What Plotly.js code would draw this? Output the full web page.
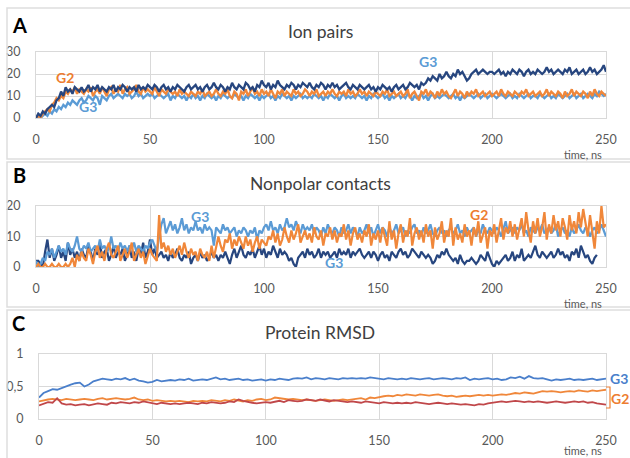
<!DOCTYPE html>
<html><head><meta charset="utf-8">
<script src="https://cdn.plot.ly/plotly-3.0.1.min.js"></script>
<style>html,body{margin:0;padding:0;background:#fff}#chart{width:630px;height:458px}</style>
</head><body><div id="chart"></div>
<script>
// ---------- DATA ----------
const stepAB = 1;   // ns
const stepC = 2;    // ns
const xTicks = [0, 50, 100, 150, 200, 250];

// Panel A: Ion pairs
const ionDark = [
0,2,1,3,2,4,5,6,5,8,
9,12,10,14,12,13,11,14,13,12,
14,12,13,15,12,14,13,15,12,14,
13,12,14,13,15,12,14,13,15,14,
12,14,13,14,12,15,13,14,13,15,
14,13,15,14,12,14,15,13,14,12,
14,13,15,14,13,12,14,15,13,14,
15,13,14,12,14,15,13,14,16,14,
13,15,14,12,14,13,16,14,13,15,
14,13,16,15,13,14,12,15,14,17,
15,14,16,13,15,14,17,15,14,13,
15,14,16,15,13,15,14,16,15,14,
16,14,13,15,14,16,15,13,15,14,
16,14,15,13,14,15,16,14,13,15,
14,13,15,14,13,14,15,13,14,12,
14,13,15,14,13,14,12,14,15,13,
14,15,13,14,16,15,14,15,13,16,
15,16,18,17,19,18,17,20,18,19,
21,19,18,20,19,22,20,21,19,17,
18,20,21,22,20,21,22,21,20,21,
21,20,21,22,20,21,19,21,20,22,
21,20,22,21,19,21,22,20,21,20,
22,21,20,21,23,21,22,20,21,22,
21,20,22,21,23,20,21,22,20,21,
22,20,21,23,21,22,20,21,22,24,
21];
const ionOrange = [
0,1,0,2,3,4,3,6,7,9,
8,10,9,12,11,13,12,14,11,13,
12,11,13,12,14,10,12,13,11,14,
12,10,13,14,11,13,12,15,11,13,
14,11,12,13,15,12,11,14,12,13,
12,11,14,12,10,13,12,11,13,12,
11,12,10,13,11,12,11,10,12,11,
10,12,11,13,10,11,12,10,11,13,
11,10,12,11,13,10,9,12,11,8,
12,11,13,10,12,14,11,12,10,13,
11,12,10,13,11,9,12,11,13,10,
12,11,10,13,11,12,10,11,13,12,
10,12,11,13,10,11,12,10,12,11,
13,11,10,12,11,12,10,13,11,12,
10,11,13,11,12,10,12,11,10,12,
11,10,12,11,13,10,11,12,10,11,
12,10,11,13,9,11,12,10,8,12,
11,13,10,12,11,9,12,10,13,11,
12,10,9,11,13,10,12,11,9,12,
10,12,11,13,10,11,12,10,11,12,
10,11,12,10,13,11,10,12,11,10,
12,11,10,12,11,13,10,11,12,10,
11,12,10,11,13,10,12,11,10,12,
11,9,12,10,11,13,10,12,11,10,
12,11,9,12,10,13,11,10,12,11,
10];
const ionLight = [
0,1,0,1,2,1,3,2,4,3,
5,4,6,5,7,6,8,7,6,8,
9,7,8,10,9,8,10,9,6,10,
9,8,10,11,9,10,11,10,9,11,
10,11,9,10,12,10,11,9,10,11,
10,11,9,10,11,10,9,10,11,8,
10,9,11,10,9,10,8,10,9,11,
9,10,8,10,9,11,10,9,10,8,
10,9,11,10,9,10,9,11,10,9,
10,8,10,9,11,10,9,10,8,10,
9,10,11,9,10,8,10,9,11,10,
9,10,8,10,9,10,11,9,10,9,
10,9,11,10,9,10,8,10,9,11,
10,9,10,8,10,11,9,10,9,10,
9,11,10,9,10,8,10,9,11,10,
9,10,11,9,10,8,10,9,10,11,
9,10,9,11,10,8,10,9,10,11,
9,10,8,10,11,9,10,9,10,11,
10,9,10,11,9,10,8,10,9,10,
11,10,9,10,11,9,10,11,9,10,
11,10,9,10,11,10,9,10,11,9,
10,9,11,10,9,10,11,9,10,10,
9,11,10,9,10,11,9,10,9,11,
10,9,10,11,9,10,11,9,10,11,
9,10,11,10,9,11,10,12,11,10,
11];

// Panel B: Nonpolar contacts
const npDark = [
2,2,1,0,5,9,3,6,2,4,
7,3,5,2,8,4,6,3,5,2,
6,4,3,7,5,2,6,4,8,3,
5,6,2,4,7,3,5,4,6,2,
4,7,3,5,2,6,4,8,3,5,
9,4,6,3,4,5,3,4,2,5,
3,4,6,3,2,4,3,5,1,3,
4,2,5,3,4,2,3,5,3,4,
2,4,3,5,3,1,4,6,3,5,
7,4,3,5,4,6,3,5,7,4,
6,3,5,4,7,5,3,6,4,5,
4,2,3,1,0,3,4,5,3,6,
4,5,3,4,6,3,5,4,5,3,
4,5,3,6,4,5,4,6,3,5,
4,5,6,4,3,4,5,3,5,4,
2,4,5,3,4,2,5,4,3,5,
6,4,5,3,4,6,5,4,3,5,
4,3,4,3,1,2,4,3,5,4,
6,4,3,2,3,1,4,2,1,2,
2,3,2,1,2,4,3,2,5,3,
1,0,2,1,2,3,4,2,3,5,
2,4,3,6,2,3,4,3,5,7,
4,3,5,4,3,4,5,3,4,6,
4,5,3,4,2,5,4,6,3,7,
5,3,4,2,1,3,4,null,null,null,
null];
const npLight = [
2,0,1,3,2,5,4,6,3,5,
7,5,6,4,8,6,5,7,10,6,
5,7,6,8,5,6,7,5,9,6,
7,5,6,10,6,7,5,8,6,7,
5,7,6,8,5,7,6,5,7,6,
8,9,7,5,10,14,16,11,13,15,
12,14,11,13,16,12,14,11,13,12,
15,12,13,11,14,12,13,12,7,13,
12,11,14,12,13,11,12,13,10,12,
11,13,12,10,12,11,13,9,12,11,
13,14,12,15,12,13,11,14,12,13,
16,13,14,12,15,13,11,14,12,13,
12,14,11,13,12,10,13,11,14,12,
11,13,12,10,13,11,12,14,11,13,
12,10,13,11,12,14,11,13,10,12,
14,11,13,12,10,13,11,12,14,11,
12,13,10,12,11,13,14,11,12,10,
13,11,12,14,11,10,12,13,11,12,
10,12,13,11,12,14,11,12,10,13,
11,12,13,10,12,11,14,12,11,13,
12,11,13,12,10,13,15,11,12,13,
11,13,12,14,11,12,10,13,12,11,
13,12,14,11,12,13,11,12,14,10,
12,13,11,12,10,13,11,12,14,12,
11,13,12,10,12,13,11,12,14,12,
10];
const npOrange = [
0,1,0,0,1,0,0,1,0,0,
1,0,0,1,0,1,3,0,4,2,
5,3,2,6,4,1,5,7,3,5,
2,6,8,4,3,5,7,2,4,6,
3,5,8,2,4,6,3,5,1,4,
6,4,3,2,17,6,8,5,7,4,
6,3,5,7,4,8,5,3,6,4,
5,2,6,4,3,5,2,7,3,6,
10,7,5,9,8,11,6,9,7,10,
8,6,10,7,9,5,8,10,6,9,
8,7,10,9,12,8,11,7,9,13,
10,8,12,9,11,14,8,10,12,9,
11,8,13,10,9,12,7,11,10,13,
9,12,8,11,10,14,9,12,7,11,
13,9,11,8,12,10,14,7,11,9,
12,8,13,10,7,15,9,12,6,11,
14,8,12,10,16,7,11,13,9,12,
8,14,10,12,6,13,9,11,15,8,
12,10,16,7,13,9,11,8,14,10,
12,7,13,10,15,8,11,13,6,12,
10,14,8,12,16,9,13,11,15,10,
14,9,12,16,10,18,12,8,15,11,
16,10,13,18,9,14,11,17,12,15,
10,16,13,9,17,12,15,11,18,13,
19,14,10,17,12,6,15,11,20,13,
14];

// Panel C: Protein RMSD (every 2 ns)
const rmsdBlue = [
0.33,0.40,0.43,0.46,0.45,0.48,0.50,0.53,0.55,0.56,
0.50,0.53,0.58,0.60,0.62,0.61,0.60,0.62,0.61,0.63,
0.60,0.62,0.59,0.58,0.56,0.57,0.60,0.58,0.59,0.60,
0.59,0.61,0.60,0.62,0.59,0.60,0.61,0.60,0.62,0.64,
0.61,0.62,0.60,0.61,0.62,0.60,0.61,0.59,0.60,0.61,
0.59,0.61,0.60,0.62,0.61,0.60,0.62,0.63,0.62,0.64,
0.61,0.63,0.62,0.61,0.63,0.62,0.61,0.63,0.62,0.63,
0.62,0.63,0.62,0.64,0.63,0.62,0.61,0.63,0.62,0.61,
0.62,0.61,0.63,0.62,0.61,0.62,0.63,0.61,0.62,0.63,
0.62,0.61,0.63,0.62,0.64,0.60,0.62,0.61,0.62,0.63,
0.61,0.62,0.60,0.61,0.64,0.63,0.65,0.62,0.66,0.63,
0.62,0.63,0.61,0.59,0.61,0.60,0.61,0.62,0.60,0.61,
0.60,0.61,0.62,0.60,0.61,0.62];
const rmsdOrange = [
0.27,0.29,0.30,0.31,0.30,0.29,0.31,0.30,0.29,0.30,
0.31,0.30,0.29,0.31,0.32,0.30,0.31,0.32,0.31,0.30,
0.31,0.33,0.30,0.29,0.30,0.28,0.29,0.28,0.27,0.28,
0.27,0.28,0.27,0.26,0.28,0.27,0.28,0.27,0.29,0.28,
0.27,0.29,0.28,0.30,0.28,0.27,0.29,0.28,0.30,0.31,
0.29,0.30,0.33,0.32,0.31,0.30,0.31,0.30,0.29,0.30,
0.29,0.28,0.29,0.30,0.29,0.28,0.29,0.30,0.29,0.30,
0.31,0.32,0.30,0.33,0.32,0.34,0.35,0.36,0.35,0.37,
0.36,0.38,0.37,0.36,0.38,0.37,0.36,0.37,0.38,0.36,
0.35,0.36,0.34,0.35,0.36,0.35,0.36,0.37,0.36,0.37,
0.36,0.37,0.38,0.37,0.39,0.40,0.39,0.41,0.40,0.39,
0.41,0.43,0.42,0.43,0.42,0.41,0.42,0.43,0.42,0.44,
0.43,0.42,0.44,0.43,0.44,0.45];
const rmsdRed = [
0.21,0.24,0.26,0.25,0.32,0.24,0.22,0.23,0.21,0.22,
0.23,0.21,0.22,0.24,0.23,0.22,0.25,0.24,0.26,0.25,
0.24,0.26,0.25,0.27,0.26,0.24,0.23,0.25,0.24,0.23,
0.24,0.23,0.24,0.25,0.24,0.23,0.25,0.24,0.26,0.25,
0.24,0.25,0.27,0.26,0.30,0.28,0.26,0.25,0.24,0.25,
0.26,0.25,0.27,0.28,0.26,0.29,0.28,0.27,0.28,0.30,
0.29,0.28,0.30,0.28,0.27,0.29,0.28,0.27,0.26,0.27,
0.26,0.25,0.27,0.26,0.25,0.24,0.26,0.25,0.24,0.25,
0.24,0.25,0.24,0.26,0.25,0.24,0.23,0.24,0.25,0.24,
0.23,0.24,0.23,0.22,0.23,0.22,0.21,0.23,0.22,0.24,
0.25,0.26,0.27,0.26,0.27,0.28,0.27,0.26,0.27,0.26,
0.27,0.26,0.25,0.26,0.27,0.26,0.25,0.26,0.27,0.26,
0.27,0.25,0.26,0.24,0.23,0.22];

// ---------- STYLE ----------
const C_DARK = '#27467f', C_LIGHT = '#5b9bd5', C_ORANGE = '#f0873a', C_BLUE = '#4a7fcb', C_RED = '#c0474a';
const FONT = 'Lato, "Open Sans", sans-serif';
const W = 630, H = 458;
const px = x => x / W, py = y => 1 - y / H;

const timeFor = (arr, step) => arr.map((_, i) => i * step);

function tr(y, step, color, width, ax) {
  return {x: timeFor(y, step), y: y, type: 'scatter', mode: 'lines',
    line: {color: color, width: width}, xaxis: 'x' + ax, yaxis: 'y' + ax,
    hoverinfo: 'skip', connectgaps: false};
}

const traces = [
  tr(ionLight, stepAB, C_LIGHT, 2.3, ''),
  tr(ionOrange, stepAB, C_ORANGE, 2.3, ''),
  tr(ionDark, stepAB, C_DARK, 2.3, ''),
  tr(npDark, stepAB, C_DARK, 2.2, '2'),
  tr(npLight, stepAB, C_LIGHT, 2.2, '2'),
  tr(npOrange, stepAB, C_ORANGE, 2.2, '2'),
  tr(rmsdBlue, stepC, C_BLUE, 1.8, '3'),
  tr(rmsdOrange, stepC, C_ORANGE, 1.8, '3'),
  tr(rmsdRed, stepC, C_RED, 1.8, '3'),
];

const grid = '#d9d9d9';
function xax(l, r, anchor) {
  return {domain: [px(l), px(r)], range: [0, 250], anchor: anchor, tickvals: xTicks,
    showgrid: true, gridcolor: grid, zeroline: false, showline: true, mirror: true, linecolor: grid,
    ticks: '', ticklabelstandoff: 10, tickfont: {family: FONT, size: 12.5, color: '#595959'}, fixedrange: true};
}
function yax(top, bot, range, dtick, anchor) {
  return {domain: [py(bot), py(top)], range: range, dtick: dtick, anchor: anchor,
    showgrid: true, gridcolor: grid, zeroline: false, showline: true, mirror: true, linecolor: grid,
    ticks: '', ticklabelstandoff: 12, tickfont: {family: FONT, size: 12.5, color: '#595959'}, fixedrange: true};
}

function ann(text, x, y, color, size, bold) {
  return {text: bold ? '<b>' + text + '</b>' : text, x: px(x), y: py(y), xref: 'paper', yref: 'paper',
    showarrow: false, xanchor: 'center', yanchor: 'middle',
    font: {family: FONT, size: size, color: color}};
}

const annotations = [
  ann('A', 19, 25, '#000', 20, true), ann('B', 19, 175, '#000', 20, true), ann('C', 18, 323, '#000', 20, true),
  ann('Ion pairs', 320, 32, '#404040', 17.5), ann('Nonpolar contacts', 320, 183, '#404040', 17.5), ann('Protein RMSD', 320, 332, '#404040', 17.5),
  ann('time, ns', 583, 155, '#595959', 11), ann('time, ns', 583, 303, '#595959', 11), ann('time, ns', 583, 450, '#595959', 11),
  ann('G2', 65, 77, '#ed7d31', 14, true), ann('G3', 88, 107, C_LIGHT, 14, true), ann('G3', 428, 62, C_LIGHT, 14, true),
  ann('G3', 200, 216, C_LIGHT, 14, true), ann('G2', 479, 214, '#ed7d31', 14, true), ann('G3', 334, 262, C_LIGHT, 14, true),
  ann('G3', 619, 378, C_BLUE, 14, true), ann('G2', 620, 398, '#ed7d31', 14, true),
];

const frame = '#dedede';
const shapes = [
  {type: 'rect', xref: 'paper', yref: 'paper', x0: px(7), x1: px(640), y0: py(159), y1: py(8), line: {color: frame, width: 1.5}},
  {type: 'rect', xref: 'paper', yref: 'paper', x0: px(7), x1: px(640), y0: py(307), y1: py(162), line: {color: frame, width: 1.5}},
  {type: 'rect', xref: 'paper', yref: 'paper', x0: px(7), x1: px(640), y0: py(470), y1: py(310), line: {color: frame, width: 1.5}},
  {type: 'path', xref: 'paper', yref: 'paper',
   path: `M ${px(606)} ${py(387)} L ${px(610)} ${py(387)} L ${px(610)} ${py(408)} L ${px(606)} ${py(408)}`,
   line: {color: '#ed7d31', width: 1.2}},
];

const layout = {
  width: W, height: H, margin: {l: 0, r: 0, t: 0, b: 0},
  paper_bgcolor: '#fff', plot_bgcolor: '#fff', showlegend: false, separators: ', ',
  font: {family: FONT},
  xaxis: xax(36, 606, 'y'), yaxis: yax(52, 118, [0, 30], 10, 'x'),
  xaxis2: xax(36, 606, 'y2'), yaxis2: yax(206, 267, [0, 20], 10, 'x2'),
  xaxis3: xax(39, 606, 'y3'), yaxis3: yax(354, 419, [0, 1], 0.5, 'x3'),
  annotations: annotations, shapes: shapes,
};
Plotly.newPlot('chart', traces, layout, {staticPlot: true, displayModeBar: false});
</script></body></html>
